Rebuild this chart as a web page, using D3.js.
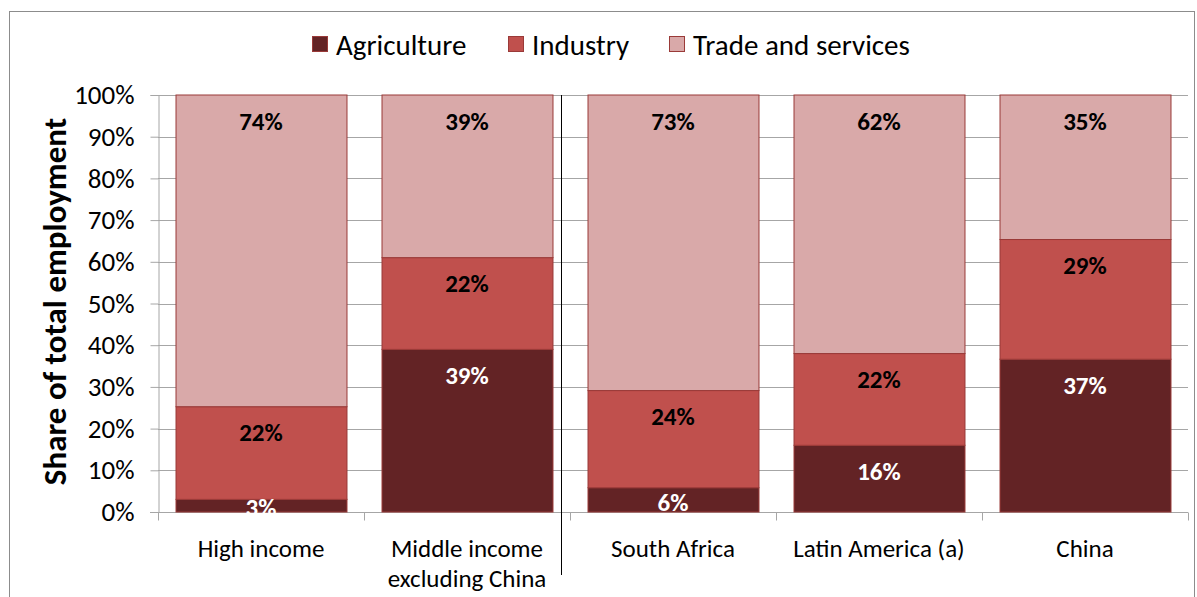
<!DOCTYPE html>
<html>
<head>
<meta charset="utf-8">
<script src="https://cdn.jsdelivr.net/npm/d3@7"></script>
<style>
  html, body { margin: 0; padding: 0; background: #fff; }
  svg { display: block; font-family: Carlito, Lato, "Open Sans", sans-serif; }
</style>
</head>
<body>
<svg id="chart" width="1197" height="597"></svg>
<script>
// Employment shares by sector (percent of total employment)
const categories = ["High income", "Middle income\nexcluding China", "South Africa", "Latin America (a)", "China"];
const seriesNames = ["Agriculture", "Industry", "Trade and services"];
const agriculture = [3, 39, 6, 16, 37];
const industry = [22, 22, 24, 22, 29];
const tradeServices = [74, 39, 73, 62, 35];
const yTicks = [0, 0.1, 0.2, 0.3, 0.4, 0.5, 0.6, 0.7, 0.8, 0.9, 1.0];
const colors = ["#632325", "#C0504D", "#D9A9A9"];
const labelColors = ["#ffffff", "#000000", "#000000"];

const rows = categories.map((c, i) => ({
  category: c,
  "Agriculture": agriculture[i],
  "Industry": industry[i],
  "Trade and services": tradeServices[i]
}));

const svg = d3.select("#chart");
const W = 1197, H = 597;
const margin = { left: 158, right: 9, top: 95, bottom: 85 };
const plotW = W - margin.left - margin.right;
const plotH = H - margin.top - margin.bottom;

// outer chart frame
svg.append("rect")
  .attr("x", 9.5).attr("y", 11.5)
  .attr("width", W - 12).attr("height", H)
  .attr("fill", "#fff").attr("stroke", "#8c8c8c").attr("stroke-width", 1);

const x = d3.scaleBand().domain(categories).range([margin.left, margin.left + plotW])
  .paddingInner(0.17).paddingOuter(0.085);
const xOuter = d3.scaleBand().domain(categories).range([margin.left, margin.left + plotW]).padding(0);
const y = d3.scaleLinear().domain([0, 1]).range([margin.top + plotH, margin.top]);

// horizontal gridlines
svg.append("g").selectAll("line").data(yTicks).join("line")
  .attr("x1", margin.left).attr("x2", margin.left + plotW)
  .attr("y1", d => Math.round(y(d)) + 0.5).attr("y2", d => Math.round(y(d)) + 0.5)
  .attr("stroke", "#a6a6a6").attr("stroke-width", 1);

// y axis
const yAxis = svg.append("g")
  .attr("transform", `translate(${margin.left + 0.5},0)`)
  .call(d3.axisLeft(y).tickValues(yTicks).tickFormat(d3.format(".0%")).tickSize(8).tickPadding(16));
yAxis.select(".domain").attr("stroke", "#a6a6a6");
yAxis.selectAll(".tick line").attr("stroke", "#a6a6a6");
yAxis.selectAll(".tick text").attr("font-size", 27).attr("fill", "#000")
  .attr("font-family", "Carlito, Lato, sans-serif");

// x axis baseline and category boundary ticks
const xBase = Math.round(y(0)) + 0.5;
svg.append("line").attr("x1", margin.left - 8).attr("x2", margin.left + plotW)
  .attr("y1", xBase).attr("y2", xBase).attr("stroke", "#a6a6a6");
const bounds = categories.map(c => xOuter(c)).concat([margin.left + plotW]);
svg.append("g").selectAll("line").data(bounds).join("line")
  .attr("x1", d => Math.round(d) + 0.5).attr("x2", d => Math.round(d) + 0.5)
  .attr("y1", xBase).attr("y2", xBase + 8).attr("stroke", "#a6a6a6");

// category labels
const catG = svg.append("g");
categories.forEach(c => {
  const lines = c.split("\n");
  const t = catG.append("text")
    .attr("x", x(c) + x.bandwidth() / 2)
    .attr("y", 557)
    .attr("text-anchor", "middle")
    .attr("font-size", 25).attr("fill", "#000");
  lines.forEach((l, i) => t.append("tspan").attr("x", x(c) + x.bandwidth() / 2).attr("dy", i === 0 ? 0 : 30).text(l));
});

// stacked, normalised bars
const stack = d3.stack().keys(seriesNames).offset(d3.stackOffsetExpand);
const layers = stack(rows);

const barG = svg.append("g");
layers.forEach((layer, si) => {
  barG.append("g").selectAll("rect").data(layer).join("rect")
    .attr("x", d => x(d.data.category) + 0.5)
    .attr("y", d => y(d[1]))
    .attr("width", x.bandwidth())
    .attr("height", d => y(d[0]) - y(d[1]))
    .attr("fill", colors[si])
    .attr("stroke", "#9a3a38").attr("stroke-width", 1);
});

// value labels placed at the inside end of each segment
layers.forEach((layer, si) => {
  barG.append("g").selectAll("text").data(layer).join("text")
    .attr("x", d => x(d.data.category) + x.bandwidth() / 2)
    .attr("y", d => {
      const top = y(d[1]), bot = y(d[0]);
      const cy = (bot - top) >= 52 ? top + 26 : (top + bot) / 2 + 2;
      return cy;
    })
    .attr("dy", "0.35em")
    .attr("text-anchor", "middle")
    .attr("font-size", 25).attr("font-weight", "bold")
    .attr("fill", labelColors[si])
    .text(d => d.data[seriesNames[si]] + "%");
});

// divider between aggregates and individual economies
const divX = Math.round((xOuter(categories[2]) + x(categories[1]) + x.bandwidth()) / 2) + 0.5;
svg.append("line").attr("x1", divX).attr("x2", divX)
  .attr("y1", y(1)).attr("y2", 575)
  .attr("stroke", "#000").attr("stroke-width", 1);

// y axis title
svg.append("text")
  .attr("transform", `translate(54,${margin.top + plotH / 2 - 2}) rotate(-90)`)
  .attr("text-anchor", "middle")
  .attr("dy", "0.35em")
  .attr("font-size", 33).attr("font-weight", "bold").attr("fill", "#000")
  .text("Share of total employment");

// legend
const legendItems = [
  { name: seriesNames[0], x: 312 },
  { name: seriesNames[1], x: 508 },
  { name: seriesNames[2], x: 669 }
];
const lg = svg.append("g");
legendItems.forEach((it, i) => {
  lg.append("rect").attr("x", it.x + 0.5).attr("y", 36.5).attr("width", 15).attr("height", 15)
    .attr("fill", colors[i]).attr("stroke", "#9a3a38");
  lg.append("text").attr("x", it.x + 24).attr("y", 45).attr("dy", "0.35em")
    .attr("font-size", 29).attr("fill", "#000").text(it.name);
});
</script>
</body>
</html>
